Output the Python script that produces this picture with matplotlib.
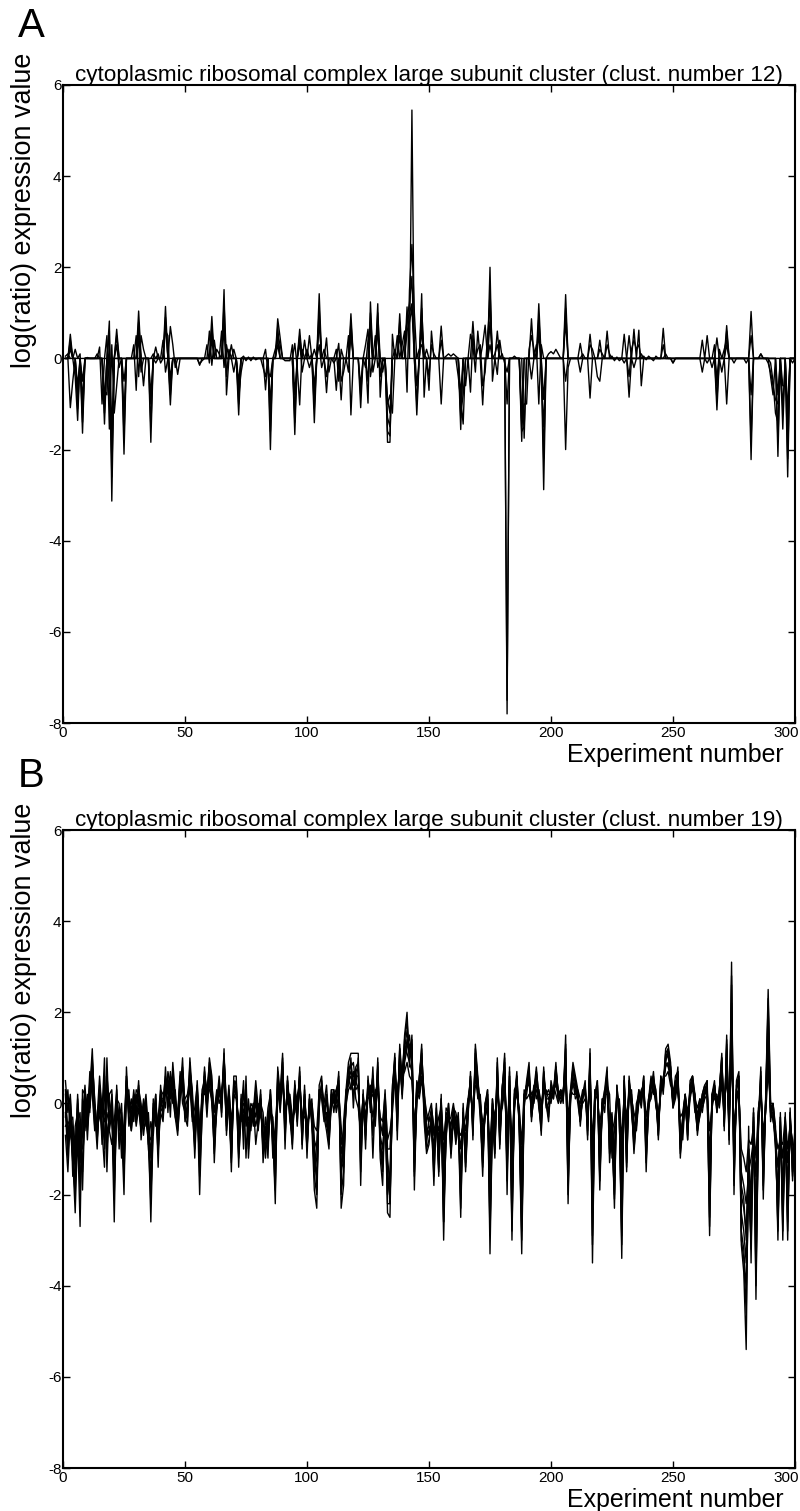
import numpy as np
import matplotlib
matplotlib.use("Agg")
import matplotlib.pyplot as plt
from matplotlib.transforms import ScaledTranslation

plt.rcParams["font.family"] = ["Liberation Sans", "DejaVu Sans"]
plt.rcParams["axes.unicode_minus"] = False

# ============================================================
# DATA
# ============================================================

experiments = np.arange(1, 301)

title_a = "cytoplasmic ribosomal complex large subunit cluster (clust. number 12)"
title_b = "cytoplasmic ribosomal complex large subunit cluster (clust. number 19)"
y_ticks = [6, 4, 2, 0, -2, -4, -6, -8]
x_ticks = [0, 50, 100, 150, 200, 250, 300]

# panel A: genes stay at 0 except at the listed experiments {experiment: value}
a_gene1 = {3: 0.53, 5: -0.4, 6: -1.36, 8: -1.64, 14: 0.1, 17: -1.44, 19: 0.82, 20: -3.13,
           22: 0.64, 25: -2.1, 31: 1.04, 33: -0.6, 36: -1.84, 38: 0.25, 42: 1.14, 44: -1.02,
           47: -0.35, 56: -0.15, 61: 0.92, 66: 1.51, 67: -0.8, 69: 0.3, 72: -1.24, 83: -0.69,
           85: -2.0, 88: 0.87, 89: 0.45, 95: -1.67, 97: 0.64, 99: 0.4, 101: 0.5, 103: -1.41,
           105: 1.42, 108: -0.75, 112: -0.7, 114: -0.91, 118: 0.98, 122: -1.08, 125: -0.98,
           126: 1.24, 129: 1.2, 130: -0.85, 133: -1.84, 134: -1.84, 135: 0.53, 138: 0.98,
           141: 1.13, 143: 5.45, 145: -1.24, 147: 1.42, 148: -0.85, 150: -0.7, 151: 0.6,
           155: 0.71, 163: -1.56, 165: -0.6, 168: 0.81, 172: -1.02, 175: 2.0, 176: -0.5,
           178: 0.6, 182: -7.8, 188: -1.82, 192: 0.87, 195: 1.2, 197: -2.88, 206: 1.4,
           212: 0.33, 216: -0.87, 220: 0.4, 223: 0.6, 230: 0.53, 232: -0.85, 234: 0.64,
           236: 0.62, 237: -0.6, 246: 0.66, 250: -0.1, 262: 0.4, 264: 0.5, 268: -1.13,
           272: 0.72, 282: -2.22, 290: -0.4, 291: -0.8, 293: -2.15, 295: -1.55, 297: -2.6,
           299: -0.1}
a_gene2 = {3: -1.08, 4: -0.5, 6: -0.6, 8: -0.9, 15: 0.25, 16: -1.0, 18: 0.5, 19: -1.55,
           20: 0.3, 21: -1.2, 22: -0.6, 25: -0.5, 30: 0.5, 31: -0.4, 32: 0.5, 33: 0.2,
           36: -0.8, 38: -0.1, 41: 0.4, 42: -0.3, 44: 0.7, 45: 0.3, 46: -0.2, 60: 0.6,
           61: -0.15, 62: 0.4, 65: 0.6, 66: -0.2, 67: 0.3, 70: -0.3, 72: -0.8, 73: -0.3,
           83: 0.2, 84: -0.3, 85: -0.4, 87: 0.2, 88: 0.4, 95: 0.33, 96: -0.2, 97: -1.02,
           98: 0.2, 101: -0.2, 103: 0.2, 105: 0.3, 106: -0.2, 108: 0.45, 109: -0.3, 112: 0.2,
           113: -0.5, 114: 0.2, 117: 0.5, 118: -1.24, 124: 0.3, 125: 0.64, 126: -0.4,
           128: 0.5, 129: -0.2, 131: -0.3, 133: -1.0, 134: -0.8, 135: -1.2, 137: 0.5,
           139: 0.3, 140: 0.6, 141: -0.74, 142: 1.5, 143: 2.5, 144: 1.0, 146: 0.2, 147: 0.3,
           149: 0.2, 155: -1.0, 162: -0.4, 163: -0.9, 164: -1.44, 167: 0.53, 168: 0.3,
           169: -0.3, 170: 0.6, 172: 0.3, 173: 0.73, 175: 0.3, 178: -0.35, 179: 0.4,
           189: -1.75, 192: -0.45, 194: 0.3, 195: -1.0, 196: 0.3, 206: -2.0, 207: -0.2,
           212: -0.3, 216: 0.53, 219: -0.4, 220: -0.5, 232: 0.5, 234: -0.2, 237: 0.1,
           262: -0.3, 266: -0.2, 268: 0.45, 270: -0.3, 272: -1.0, 282: 1.03, 290: -0.1,
           291: -0.5, 292: -1.2, 293: -1.4, 295: -0.6, 296: -0.6, 297: -1.0}
a_gene3 = {3: 0.3, 5: 0.2, 7: 0.1, 8: -1.2, 17: -0.7, 18: -0.8, 19: 0.4, 20: -1.6, 22: 0.3,
           23: -0.2, 29: 0.3, 30: -0.7, 31: 0.6, 32: -0.3, 37: 0.1, 39: 0.1, 40: -0.1,
           42: 0.6, 43: 0.5, 44: -0.6, 59: 0.3, 60: -0.1, 61: 0.6, 63: 0.2, 64: 0.1, 66: 0.9,
           67: -0.4, 68: 0.2, 70: 0.2, 72: -0.5, 82: -0.2, 83: -0.4, 85: -1.2, 88: 0.5,
           89: 0.3, 91: -0.05, 92: -0.05, 93: -0.05, 94: 0.3, 95: -0.8, 97: 0.4, 98: -0.3,
           100: 0.2, 102: 0.1, 103: -0.8, 105: 0.8, 107: 0.2, 111: -0.1, 113: 0.33,
           114: -0.5, 115: -0.3, 117: -0.3, 118: 0.6, 124: -0.2, 125: 0.4, 126: 0.7,
           127: -0.3, 129: 0.7, 130: -0.4, 132: -0.1, 133: -1.3, 134: -1.5, 136: 0.2,
           138: 0.5, 140: 0.4, 141: 0.8, 142: 1.0, 143: 1.2, 144: 0.3, 145: -0.6, 147: 0.8,
           148: 0.1, 150: -0.4, 151: 0.3, 152: 0.1, 155: 0.4, 163: -1.2, 164: -0.8,
           167: -0.74, 168: 0.5, 170: 0.2, 171: 0.3, 172: -0.6, 173: -0.3, 174: 0.5,
           175: 1.2, 177: 0.1, 178: 0.3, 180: 0.1, 181: -0.1, 182: -0.3, 188: -1.2,
           189: -1.0, 190: -1.0, 191: 0.2, 192: 0.5, 193: 0.2, 195: 0.7, 196: -0.4,
           197: -1.5, 206: 0.8, 213: 0.1, 216: 0.3, 217: 0.2, 220: 0.2, 221: 0.1, 223: 0.3,
           224: 0.1, 230: -0.1, 232: -0.4, 233: 0.2, 234: 0.4, 235: 0.2, 236: 0.3, 247: 0.1,
           264: -0.1, 267: 0.3, 268: -0.6, 269: 0.2, 271: 0.2, 272: 0.4, 282: 0.5, 286: 0.1,
           289: -0.1, 290: -0.3, 291: -0.6, 292: -0.9, 293: -1.0, 295: -1.1, 297: -1.6}
a_gene4 = {3: 0.2, 6: -0.8, 8: -0.5, 17: -1.0, 19: -0.5, 20: -2.2, 25: -1.2, 31: 0.4,
           36: -1.0, 42: 0.8, 44: -0.4, 61: 0.4, 66: 0.6, 72: -0.7, 85: -1.0, 88: 0.3,
           95: -1.2, 97: 0.3, 103: -0.6, 105: 0.9, 108: -0.4, 118: 0.5, 122: -0.6,
           125: -0.5, 126: 0.8, 129: 0.6, 133: -0.9, 134: -1.2, 141: 0.6, 142: 0.8,
           143: 1.1, 147: 0.6, 163: -0.8, 175: 0.8, 182: -1.0, 188: -1.4, 195: 0.5,
           197: -0.9, 206: -0.5, 246: 0.3, 268: -0.4, 272: 0.3, 282: -0.8, 293: -0.8,
           297: -1.2}
a_gene5 = {1: 0.05, 2: 0.1, 10: 0.02, 56: -0.12, 57: -0.05, 74: 0.05, 75: -0.05, 76: 0.03,
           77: -0.05, 78: 0.03, 79: -0.03, 157: 0.05, 158: 0.1, 159: 0.05, 160: 0.1,
           161: 0.05, 185: 0.05, 199: 0.1, 200: 0.15, 201: 0.1, 202: 0.2, 203: 0.1,
           225: 0.05, 226: -0.05, 227: 0.03, 228: -0.05, 238: 0.05, 239: -0.03, 240: 0.05,
           242: -0.05, 243: 0.05, 250: -0.1, 275: -0.1, 280: -0.1, 286: 0.1}
a_gene6 = {3: 0.4, 6: -1.1, 8: -1.4, 17: -1.2, 19: 0.6, 20: -2.6, 22: 0.5, 25: -1.7,
           31: 0.8, 36: -1.5, 42: 0.9, 44: -0.8, 61: 0.7, 66: 1.2, 72: -1.0, 85: -1.6,
           88: 0.7, 95: -1.4, 97: 0.5, 103: -1.1, 105: 1.1, 118: 0.8, 122: -0.8, 126: 1.0,
           129: 1.0, 133: -1.6, 134: -1.7, 138: 0.8, 141: 0.9, 142: 1.2, 143: 1.8,
           145: -1.0, 147: 1.1, 163: -1.3, 175: 1.5, 182: -7.5, 188: -1.6, 189: -1.5,
           195: 0.9, 197: -2.2, 206: 1.1, 268: -0.9, 272: 0.6, 282: -1.8, 293: -1.8,
           297: -2.2}

# panel B: one value per experiment (1..300)
b_gene1 = [
    -0.7, -1.5, -0.3, -1.2, -2.4, -0.6, -2.7, 0.3, 0.2, -0.8, 0.3, 1.2, -0.2, -1.0, 0.2, -0.6, -1.4, 1.0, -0.6, -0.2,
    -2.6, 0.4, -0.8, -0.5, -2.0, 0.8, -0.3, -0.6, 0.2, -0.2, 0.5, -0.8, -0.2, 0.2, -0.6, -2.6, -0.4, 0.2, -1.4, 0.4,
    -0.3, 0.8, -0.2, 0.7, 0.1, -0.3, -0.7, 0.2, 1.0, -0.3, -0.5, 1.0, 0.2, -1.2, 0.1, -2.0, -0.2, 0.8, 0.0, 1.0,
    0.6, -1.3, 0.0, 0.6, -0.2, 1.2, -0.7, 0.2, -1.5, 0.6, 0.6, -1.4, 0.2, -1.0, 0.6, -1.2, -0.3, 0.0, -0.9, -0.4,
    0.3, -1.3, -0.5, -1.2, 0.3, -0.6, -2.2, 0.8, 0.2, 1.1, -1.0, 0.6, -0.2, -1.0, 0.5, -0.3, 0.8, -1.0, 0.4, -1.2,
    0.2, -0.5, -1.9, -2.3, 0.4, 0.6, -0.3, -0.6, -1.0, 0.3, 0.3, 0.0, 0.7, -2.3, -1.8, 0.3, 0.9, 1.1, 1.1, 1.1,
    1.1, -1.8, 0.3, -1.0, 0.6, -0.2, 0.8, -0.5, 1.0, -1.2, -1.8, 0.0, -2.4, -2.5, 0.3, 1.1, -0.8, 1.3, 0.5, 1.5,
    2.0, 0.8, 1.5, -1.9, 0.2, 0.5, 1.3, -0.4, -1.1, -0.9, -0.3, -1.8, -0.2, -1.6, 0.2, -3.0, -0.5, 0.0, -1.2, -0.3,
    -0.9, -0.4, -2.5, -0.1, -1.5, -0.3, 0.7, -0.8, 1.3, 0.6, -0.2, -1.6, 0.0, 0.3, -3.3, -0.3, -1.2, 1.0, -1.0, 0.2,
    1.1, -2.0, 0.8, -3.0, 0.1, 0.7, -0.6, -3.3, 0.0, 0.5, 0.9, -0.4, 0.3, 0.8, 0.1, -0.7, 0.8, 0.0, -0.4, 0.5,
    0.2, 0.9, 0.1, 0.3, 0.0, 1.5, -2.2, 0.3, 0.9, 0.6, 0.3, -0.5, 0.2, 0.5, -0.8, 1.2, -3.5, 0.2, 0.5, -1.9,
    0.0, 0.3, 0.8, -1.3, -0.5, -2.3, 0.4, -0.2, -3.4, 0.6, -1.5, 0.6, 0.0, -1.1, -0.3, 0.3, 0.1, 0.6, -1.5, 0.1,
    0.6, 0.2, 0.2, -0.8, 0.6, 0.4, 1.2, 1.3, 0.9, -0.1, 0.3, 0.8, -1.2, -0.3, 0.2, -0.8, 0.5, 0.6, 0.2, -0.7,
    -0.2, 0.2, 0.4, 0.5, -2.9, 0.2, 0.5, -0.2, 0.3, 1.1, -0.6, 1.5, -0.9, 3.1, -2.0, 0.5, 0.7, -3.1, -3.7, -5.4,
    -0.5, -3.5, -0.1, -4.3, -0.4, 0.8, -2.1, 0.2, 2.5, 0.0, 0.0, -0.5, -3.0, -0.2, -3.0, -0.2, -3.0, -0.1, -1.7, -0.7,
]
b_gene2 = [
    0.5, -0.2, 0.2, -0.8, -1.1, 0.1, -1.3, -0.3, 0.4, -0.4, 0.7, 0.4, -0.5, -0.3, 0.6, -0.2, 1.0, -1.5, 0.2, 0.3,
    -0.8, 0.1, 0.0, -1.2, -0.4, 0.5, -0.2, 0.1, -0.4, 0.3, 0.2, -0.3, 0.0, -0.5, -0.2, -1.2, 0.0, -0.3, -0.6, 0.2,
    0.0, 0.3, 0.6, -0.3, 0.9, 0.2, -0.4, 0.5, 0.3, 0.1, 0.2, 0.6, -0.3, -0.1, 0.4, -0.8, 0.3, 0.5, -0.3, 0.6,
    0.3, -0.6, 0.2, 0.3, 0.1, 0.8, -0.3, 0.4, -0.6, 0.3, 0.2, -0.5, -0.2, 0.5, -1.2, 0.1, -0.5, -0.2, 0.5, -0.1,
    -0.2, -0.6, -1.2, -0.3, 0.1, -1.0, -0.5, 0.3, -0.2, 0.6, -0.3, 0.3, 0.1, -0.5, 0.2, 0.1, 0.5, -0.4, 0.0, -0.6,
    -0.1, 0.1, -0.8, -1.0, 0.2, 0.3, 0.0, 0.4, -0.4, 0.1, 0.2, 0.3, 0.4, -0.9, -0.6, 0.1, 0.5, 0.6, 0.2, 0.5,
    0.3, -0.4, 0.1, -0.3, 0.3, 0.4, -1.2, 0.2, 0.5, -0.5, -0.6, 0.3, -1.0, -1.0, 0.1, 0.6, 0.2, 0.8, 0.3, 0.9,
    1.2, 1.5, 0.9, -0.8, 0.5, 0.3, 0.8, 0.3, -0.4, -0.2, 0.0, -0.7, -0.4, -0.6, 0.1, -1.2, -0.2, -0.3, -0.5, -0.1,
    -0.2, -0.5, -1.0, -0.3, -0.6, 0.0, 0.3, -0.3, 0.6, 0.2, 0.1, -0.6, -0.1, 0.1, -1.4, 0.1, -0.5, 0.4, -0.3, 0.1,
    0.5, -0.8, 0.4, -1.2, 0.3, 0.4, -0.2, -1.3, 0.2, 0.3, 0.5, 0.1, 0.0, 0.4, 0.3, -0.2, 0.4, 0.2, 0.3, 0.1,
    0.3, 0.4, 0.2, 0.1, 0.3, 0.8, -0.6, 0.2, 0.4, 0.3, 0.1, 0.0, 0.3, 0.2, -0.3, 0.6, -1.1, 0.3, 0.2, -0.6,
    -0.2, 0.1, 0.4, 0.2, -1.2, -0.6, 0.2, 0.0, -1.2, 0.3, -0.5, 0.3, 0.2, -0.4, -0.6, 0.1, 0.3, 0.4, -0.5, -0.1,
    0.3, 0.7, -0.1, -0.3, 0.3, 0.5, 0.8, 0.9, 0.5, 0.2, 0.5, 0.4, -0.5, -0.8, 0.1, -0.3, 0.3, 0.4, -0.2, -0.2,
    0.0, 0.1, 0.2, 0.3, -1.1, 0.0, 0.3, 0.1, 0.0, 0.6, -0.2, 0.8, -0.3, 1.3, -0.8, 0.2, 0.3, -1.5, -1.8, -2.2,
    -1.5, -1.2, -0.8, -1.6, -0.2, 0.3, -0.9, 0.0, 1.0, -0.3, -0.3, -0.8, -1.4, -0.6, -1.2, -0.5, -1.3, -0.4, -0.9, -1.0,
]
b_gene3 = [
    0.2, -1.0, 0.1, -1.6, -0.5, -0.2, -2.0, 0.1, -0.6, 0.1, -0.2, 0.9, 0.1, -0.8, 0.3, -0.9, 0.4, -0.7, -0.3, 0.1,
    -1.5, -0.3, -0.4, 0.0, -1.3, 0.2, 0.3, -0.6, 0.0, -0.5, -0.1, -0.6, -0.4, 0.1, -0.9, -0.4, -0.7, 0.1, -1.0, -0.2,
    -0.4, 0.5, 0.2, 0.3, 0.5, -0.2, -0.3, 0.7, 0.0, -0.2, -0.2, 0.8, 0.1, -0.6, -0.2, -1.1, 0.2, 0.2, 0.4, 0.3,
    0.1, -0.8, -0.2, 0.5, -0.3, 1.0, 0.0, -0.2, -1.1, 0.5, 0.4, -0.9, 0.0, -0.4, 0.2, -0.8, -0.1, -0.4, 0.2, -0.6,
    0.1, -1.0, -0.3, -0.8, -0.2, -0.3, -1.4, 0.5, 0.0, 0.9, -0.6, 0.5, -0.4, -0.7, 0.4, -0.5, 0.6, -0.7, 0.2, -0.9,
    0.1, -0.4, -1.2, -1.6, -0.1, 0.5, -0.2, -0.2, -0.8, 0.2, -0.2, 0.3, 0.5, -1.5, -1.0, 0.2, 0.7, 0.9, 0.4, 0.7,
    0.8, -1.0, 0.2, -0.6, 0.5, -0.1, 0.4, -0.2, 0.8, -0.9, -1.2, -0.2, -1.6, -2.0, 0.4, 0.9, -0.4, 1.1, 0.2, 1.2,
    1.6, 1.1, 1.3, -1.3, 0.0, 0.6, 1.1, 0.1, -0.7, -0.6, -0.5, -1.2, 0.0, -1.1, -0.3, -2.2, -0.8, 0.0, -0.9, -0.4,
    -0.6, -0.2, -1.8, -0.2, -1.1, -0.1, 0.5, -0.5, 1.0, 0.4, -0.3, -1.3, 0.0, 0.2, -2.4, -0.2, -0.9, 0.8, -0.6, 0.3,
    0.9, -1.5, 0.6, -2.2, -0.2, 0.6, -0.4, -2.4, -0.1, 0.4, 0.7, -0.2, 0.2, 0.6, -0.1, -0.5, 0.6, 0.1, -0.2, 0.4,
    0.1, 0.7, 0.3, 0.2, 0.1, 1.2, -1.4, 0.0, 0.7, 0.5, 0.2, -0.3, 0.1, 0.4, -0.6, 0.9, -2.4, 0.0, 0.4, -1.3,
    0.1, -0.2, 0.6, -0.8, -0.3, -1.6, 0.3, -0.4, -2.4, 0.5, -1.1, 0.5, -0.2, -0.8, 0.0, 0.2, -0.1, 0.5, -1.0, 0.0,
    0.5, 0.4, 0.1, -0.6, 0.5, 0.3, 1.0, 1.1, 0.7, 0.0, 0.2, 0.6, -0.9, -0.5, 0.0, -0.6, 0.4, 0.5, 0.0, -0.5,
    -0.3, 0.0, 0.3, 0.4, -2.0, 0.2, 0.4, -0.1, 0.2, 0.9, -0.4, 1.2, -0.6, 2.2, -1.4, 0.3, 0.5, -2.4, -2.8, -3.5,
    -1.0, -2.6, -0.3, -3.1, -0.6, 0.5, -1.5, 0.1, 1.8, -0.2, -0.2, -1.0, -2.4, -0.4, -2.3, -0.8, -2.2, -0.6, -1.3, -0.8,
]
b_gene4 = [
    -0.3, 0.3, -0.7, -0.9, -1.8, -0.1, -0.6, -1.5, 0.3, -0.6, 0.5, 0.2, -0.6, -0.4, -0.1, -0.5, -0.8, 0.5, -0.6, -0.9,
    -0.4, 0.3, -1.0, -0.2, -0.9, 0.6, -0.5, -0.1, 0.1, 0.0, 0.3, 0.0, -0.7, -0.2, -0.4, -1.8, 0.1, -0.5, -0.3, 0.3,
    0.2, -0.1, 0.7, 0.4, 0.0, 0.3, -0.6, 0.1, 0.6, -0.4, 0.0, 0.4, -0.4, -0.3, 0.3, -0.5, -0.1, 0.6, 0.1, 0.8,
    0.4, -0.2, 0.3, 0.0, 0.2, 0.6, -0.5, 0.3, -0.4, 0.2, 0.1, -0.3, -0.4, 0.3, -0.5, -0.3, -0.6, 0.0, -0.3, 0.0,
    -0.3, -0.4, -0.8, -0.1, 0.2, -0.9, -0.7, 0.2, 0.3, 0.4, -0.1, 0.0, 0.2, -0.3, -0.2, 0.2, 0.3, -0.2, -0.3, -0.4,
    -0.3, 0.0, -0.5, -0.6, 0.3, 0.1, -0.4, 0.2, -0.3, -0.1, 0.1, -0.1, 0.2, -0.5, -1.2, 0.0, 0.3, 0.4, 0.7, 0.1,
    -0.1, -0.6, -0.2, 0.0, 0.2, 0.3, -0.7, 0.3, 0.2, -0.3, -0.4, 0.2, -0.8, -0.6, -0.2, 0.5, 0.3, 0.6, 0.6, 0.7,
    0.9, 0.6, 0.5, -0.5, 0.3, 0.1, 0.5, 0.2, -0.2, -0.4, -0.1, -0.5, -0.6, -0.3, -0.1, -0.8, -0.3, -0.4, -0.3, 0.0,
    -0.4, -0.6, -0.7, -0.5, -0.3, 0.1, 0.2, -0.2, 0.4, 0.3, 0.0, -0.4, -0.3, -0.1, -0.9, 0.0, -0.3, 0.2, -0.2, -0.1,
    0.3, -0.5, 0.2, -0.8, 0.0, 0.2, -0.1, -0.9, 0.3, 0.1, 0.2, 0.0, 0.4, 0.1, 0.3, 0.0, 0.2, 0.3, 0.1, 0.0,
    0.4, 0.2, 0.0, 0.3, 0.2, 0.5, -0.3, 0.3, 0.2, 0.2, 0.3, 0.1, 0.0, 0.1, -0.2, 0.4, -0.8, 0.2, 0.1, -0.4,
    -0.1, 0.2, 0.2, -0.3, -0.6, -0.4, 0.1, 0.1, -0.8, 0.2, -0.3, 0.2, 0.1, -0.2, -0.4, 0.0, 0.2, 0.2, -0.3, 0.1,
    0.2, 0.3, 0.0, -0.2, 0.2, 0.6, 0.6, 0.7, 0.4, 0.3, 0.4, 0.2, -0.3, -0.2, 0.2, -0.2, 0.2, 0.3, 0.1, -0.1,
    0.1, -0.1, 0.1, 0.2, -0.6, -0.1, 0.2, 0.2, -0.1, 0.4, 0.0, 0.5, -0.2, 0.9, -0.5, 0.1, 0.2, -1.0, -1.2, -1.5,
    -0.8, -0.9, -0.5, -1.2, -0.1, 0.2, -0.6, -0.2, 0.7, 0.0, -0.4, -0.6, -1.0, -0.8, -0.9, -0.3, -1.0, -0.5, -0.8, -1.2,
]
b_gene5 = [
    0.0, -0.6, -0.4, -0.3, -1.3, 0.2, -0.9, -1.0, -0.2, 0.2, -0.1, 0.6, -0.3, -0.7, 0.4, -0.1, -0.4, -0.2, -0.5, 0.2,
    -2.0, -0.1, -0.2, -0.7, -0.6, 0.3, 0.0, -0.4, -0.2, 0.2, 0.0, -0.5, 0.1, -0.3, -0.7, -0.8, -0.3, 0.0, -0.8, -0.1,
    -0.2, 0.4, 0.0, 0.5, 0.6, -0.1, -0.2, 0.3, 0.8, 0.0, -0.3, 0.7, 0.3, -0.8, 0.0, -1.4, 0.1, 0.4, -0.1, 0.5,
    0.0, -1.0, 0.1, 0.4, -0.1, 0.9, -0.2, 0.0, -0.9, 0.4, 0.5, -1.0, 0.1, -0.6, 0.4, -1.0, -0.2, -0.3, 0.3, -0.3,
    0.2, -0.8, -0.6, -0.5, -0.1, -0.4, -1.7, 0.6, -0.1, 0.8, -0.8, 0.4, -0.1, -0.8, 0.3, -0.2, 0.7, -0.8, 0.3, -0.8,
    0.0, -0.3, -1.5, -1.2, 0.1, 0.4, -0.1, -0.5, -0.6, 0.3, 0.0, 0.2, 0.6, -1.8, -0.4, 0.3, 0.4, 1.0, -0.1, 0.8,
    0.9, -1.3, 0.0, -0.8, 0.4, 0.0, 0.6, -0.4, 0.7, -0.7, -1.0, -0.1, -2.0, -1.5, 0.2, 0.8, -0.5, 1.2, 0.4, 1.0,
    1.4, 1.2, 1.1, -1.1, 0.1, 0.4, 0.9, -0.2, -0.9, -0.3, -0.4, -1.4, -0.1, -1.3, 0.0, -1.8, -0.6, -0.1, -1.0, -0.2,
    -0.7, -0.3, -2.1, 0.0, -1.3, -0.2, 0.6, -0.6, 1.1, 0.5, -0.1, -1.0, -0.2, 0.2, -2.9, -0.4, -1.0, 0.6, -0.8, 0.4,
    0.7, -1.2, 0.7, -2.6, 0.2, 0.5, -0.5, -2.8, 0.1, 0.2, 0.6, -0.3, 0.1, 0.7, 0.2, -0.4, 0.7, -0.1, 0.0, 0.3,
    0.2, 0.8, 0.2, 0.0, 0.2, 1.0, -1.8, 0.1, 0.8, 0.4, 0.0, -0.4, 0.2, 0.3, -0.5, 1.0, -2.9, 0.1, 0.4, -1.6,
    0.0, 0.0, 0.7, -1.0, -0.8, -2.0, 0.4, -0.3, -2.9, 0.6, -1.3, 0.4, 0.0, -0.9, -0.2, 0.3, 0.0, 0.6, -1.2, -0.2,
    0.4, 0.6, 0.2, -0.7, 0.6, 0.2, 1.1, 1.0, 0.8, 0.1, 0.6, 0.7, -1.1, -0.6, 0.1, -0.7, 0.3, 0.6, -0.1, -0.6,
    -0.1, 0.2, 0.4, 0.2, -2.5, 0.1, 0.4, -0.2, 0.3, 1.0, -0.5, 1.3, -0.8, 2.6, -1.7, 0.4, 0.6, -2.8, -3.2, -4.1,
    -2.0, -3.0, -0.2, -3.7, -0.5, 0.6, -1.8, 0.1, 2.1, -0.4, 0.0, -0.7, -2.7, -0.3, -2.6, -0.4, -2.6, -0.2, -1.5, -0.5,
]
b_gene6 = [
    -0.2, -1.2, 0.0, -1.0, -0.8, -0.4, -0.2, -1.9, 0.0, -0.3, 0.2, 1.0, 0.0, -0.5, -0.3, 0.1, -1.0, 0.6, 0.0, -0.4,
    -0.9, 0.2, -0.6, -0.3, -1.6, 0.4, -0.1, -0.3, 0.3, -0.3, 0.4, -0.2, -0.5, 0.0, -1.0, -1.5, -0.2, -0.1, -0.5, 0.1,
    0.1, 0.6, 0.3, 0.1, 0.7, 0.0, -0.5, 0.4, 0.4, -0.1, 0.1, 0.3, -0.1, -0.5, 0.5, -0.6, 0.0, 0.7, 0.2, 0.9,
    0.5, -0.4, -0.1, 0.2, 0.3, 0.7, -0.4, 0.1, -0.7, 0.1, 0.3, -0.7, -0.1, 0.0, -0.3, -0.5, 0.0, -0.1, -0.5, -0.2,
    0.0, -0.2, -1.0, -0.6, 0.3, -1.2, -0.9, 0.4, 0.1, 0.5, -0.4, 0.2, -0.3, -0.4, 0.0, 0.0, 0.4, -0.5, 0.1, -0.5,
    -0.2, -0.1, -0.9, -1.9, 0.2, 0.2, -0.3, 0.1, -0.7, 0.0, 0.3, -0.2, 0.1, -1.1, -0.8, -0.1, 0.6, 0.3, 0.5, 0.3,
    0.4, -0.8, 0.2, -0.4, 0.1, 0.2, -0.3, 0.1, 0.4, -0.4, -0.7, 0.1, -1.2, -1.8, 0.0, 0.7, 0.0, 0.9, 0.7, 1.3,
    1.1, 0.9, 0.7, -0.7, 0.4, 0.2, 0.6, 0.0, -0.5, -0.7, -0.2, -1.0, -0.3, -0.8, -0.2, -1.5, -0.1, -0.2, -0.7, -0.5,
    -0.3, -0.7, -1.4, -0.4, -0.8, 0.0, 0.4, -0.4, 0.8, 0.1, 0.2, -0.8, -0.3, 0.0, -1.8, 0.1, -0.6, 0.5, -0.5, 0.0,
    0.4, -1.0, 0.3, -1.6, -0.1, 0.3, -0.3, -1.7, 0.0, 0.4, 0.4, 0.2, 0.3, 0.3, 0.0, -0.3, 0.3, 0.2, 0.2, 0.2,
    0.3, 0.5, 0.1, 0.2, 0.3, 0.6, -1.0, 0.2, 0.5, 0.1, 0.2, -0.2, 0.1, 0.3, -0.4, 0.7, -1.7, 0.3, 0.3, -1.0,
    -0.3, 0.3, 0.3, -0.5, -0.2, -1.1, 0.0, 0.0, -1.8, 0.4, -0.7, 0.1, 0.3, -0.6, -0.5, 0.2, 0.2, 0.3, -0.7, 0.0,
    0.1, 0.5, 0.3, -0.4, 0.4, 0.4, 0.9, 1.2, 0.6, -0.1, 0.1, 0.5, -0.7, -0.4, 0.2, -0.5, 0.1, 0.4, 0.2, -0.4,
    0.0, -0.2, 0.2, 0.5, -1.6, 0.2, 0.1, 0.0, 0.1, 0.7, -0.3, 1.0, -0.5, 1.8, -1.1, 0.0, 0.4, -2.0, -2.3, -2.8,
    -1.2, -2.0, -0.6, -2.5, -0.3, 0.4, -1.2, -0.1, 1.4, -0.1, -0.1, -0.9, -1.9, -0.5, -1.8, -0.6, -1.8, -0.3, -1.1, -1.4,
]
b_gene7 = [
    0.3, -0.8, -0.2, -0.6, -1.5, -0.3, -1.1, -0.7, 0.1, -0.5, 0.0, 0.8, -0.4, -0.6, 0.3, -0.3, 0.6, -1.0, -0.2, -0.1,
    -1.2, 0.0, -0.3, -0.9, -1.1, 0.5, 0.1, -0.2, -0.1, 0.1, 0.2, -0.4, -0.3, -0.1, -0.5, -2.0, -0.5, 0.2, -0.9, 0.0,
    -0.1, 0.2, 0.4, 0.6, 0.3, 0.1, -0.3, 0.6, 0.5, -0.2, -0.1, 0.5, 0.0, -0.9, 0.2, -1.0, 0.2, 0.3, 0.0, 0.7,
    0.2, -0.8, 0.0, 0.3, 0.0, 1.0, -0.1, 0.2, -1.2, 0.3, 0.4, -1.1, 0.0, -0.2, 0.1, -0.6, -0.4, -0.2, 0.0, -0.4,
    0.1, -1.1, -0.7, -0.9, 0.0, -0.7, -1.2, 0.7, 0.0, 0.7, -0.5, 0.4, 0.0, -0.6, 0.1, -0.1, 0.6, -0.6, 0.2, -1.0,
    0.1, -0.2, -1.4, -0.9, 0.0, 0.4, -0.2, 0.2, -0.5, 0.2, 0.1, 0.1, 0.3, -1.3, -1.4, 0.1, 0.5, 0.7, 0.6, 0.6,
    0.6, -1.1, 0.1, -0.5, 0.3, 0.1, 0.2, 0.0, 0.6, -0.8, -1.4, 0.0, -1.4, -2.2, 0.1, 1.0, -0.2, 1.0, 0.1, 1.1,
    1.3, 1.3, 1.0, -1.5, 0.2, 0.4, 1.0, 0.0, -0.6, -0.5, -0.6, -1.1, -0.2, -1.4, -0.1, -2.6, -0.4, -0.2, -0.8, -0.1,
    -0.5, -0.5, -1.6, -0.3, -1.0, 0.1, 0.5, -0.4, 0.9, 0.3, 0.0, -1.1, -0.1, 0.1, -2.0, -0.1, -0.8, 0.7, -0.7, 0.1,
    0.8, -1.4, 0.5, -2.0, 0.0, 0.4, -0.4, -2.0, 0.2, 0.3, 0.6, -0.1, 0.2, 0.5, 0.1, -0.2, 0.5, 0.1, 0.1, 0.2,
    0.1, 0.6, 0.2, 0.1, 0.1, 0.9, -1.2, 0.2, 0.6, 0.3, 0.1, -0.1, 0.2, 0.2, -0.3, 0.8, -2.0, 0.2, 0.3, -1.1,
    0.1, 0.1, 0.5, -0.6, -1.0, -1.3, 0.2, -0.1, -2.1, 0.4, -0.9, 0.2, 0.1, -0.7, -0.3, 0.1, 0.2, 0.4, -0.9, 0.1,
    0.4, 0.5, 0.1, -0.5, 0.3, 0.5, 0.9, 0.8, 0.6, 0.0, 0.4, 0.6, -0.8, -0.3, 0.1, -0.4, 0.2, 0.5, 0.0, -0.3,
    0.1, 0.0, 0.2, 0.3, -1.9, 0.0, 0.2, 0.0, 0.2, 0.8, -0.2, 0.9, -0.4, 1.6, -1.3, 0.2, 0.3, -1.8, -2.1, -3.0,
    -1.6, -2.3, -0.4, -2.8, -0.2, 0.3, -1.1, 0.0, 1.2, -0.2, -0.2, -0.7, -2.1, -0.6, -2.0, -0.5, -1.9, -0.4, -1.2, -1.1,
]
b_gene8 = [
    -0.5, -0.4, -0.5, -1.3, -2.0, 0.0, -1.6, -1.2, -0.4, -0.1, 0.4, 0.5, -0.1, -0.8, 0.0, -0.7, -0.2, 0.3, -0.4, 0.0,
    -1.8, 0.1, -0.5, -0.4, -1.4, 0.6, -0.3, -0.5, 0.2, -0.4, 0.1, -0.6, -0.1, -0.4, -0.8, -2.2, -0.1, -0.2, -1.1, 0.2,
    -0.3, 0.5, 0.5, 0.2, 0.4, -0.3, -0.5, 0.5, 0.7, -0.1, -0.4, 0.9, -0.2, -1.0, 0.3, -1.6, -0.3, 0.6, 0.3, 0.7,
    0.3, -1.1, 0.2, 0.2, 0.1, 1.1, -0.6, 0.1, -1.3, 0.5, 0.2, -1.2, -0.3, -0.3, 0.3, -0.9, -0.1, -0.5, 0.1, -0.5,
    -0.1, -0.9, -0.9, -1.0, 0.1, -0.8, -1.9, 0.6, 0.1, 1.0, -0.7, 0.5, -0.2, -0.9, 0.4, -0.4, 0.5, -0.9, 0.1, -1.0,
    -0.1, -0.2, -1.6, -2.0, 0.3, 0.3, -0.1, -0.3, -0.9, 0.0, 0.2, 0.1, 0.4, -2.0, -1.5, 0.0, 0.8, 0.8, 0.9, 0.4,
    1.0, -1.5, 0.1, -0.7, 0.5, 0.2, 0.6, -0.3, 0.9, -1.0, -1.5, 0.1, -2.2, -2.2, 0.2, 1.0, -0.6, 1.2, 0.3, 1.4,
    1.8, 1.0, 1.4, -1.6, 0.3, 0.5, 1.2, -0.1, -1.0, -0.8, -0.4, -1.6, -0.3, -1.5, 0.1, -2.6, -0.7, -0.2, -1.1, -0.2,
    -0.8, -0.3, -2.3, -0.2, -1.4, -0.2, 0.6, -0.7, 1.2, 0.5, -0.1, -1.4, -0.1, 0.3, -2.7, -0.2, -1.1, 0.9, -0.9, 0.3,
    1.0, -1.7, 0.6, -2.8, 0.1, 0.6, -0.5, -3.0, 0.1, 0.4, 0.8, -0.3, 0.2, 0.7, 0.0, -0.6, 0.7, 0.0, -0.3, 0.4,
    0.2, 0.8, 0.1, 0.2, 0.1, 1.3, -2.0, 0.2, 0.8, 0.5, 0.2, -0.4, 0.2, 0.4, -0.7, 1.1, -3.1, 0.1, 0.5, -1.7,
    0.0, 0.2, 0.7, -1.1, -0.6, -2.1, 0.3, -0.2, -3.1, 0.5, -1.4, 0.5, 0.1, -1.0, -0.4, 0.2, 0.1, 0.5, -1.3, 0.0,
    0.5, 0.3, 0.2, -0.7, 0.5, 0.3, 1.1, 1.2, 0.8, 0.0, 0.4, 0.7, -1.0, -0.4, 0.2, -0.8, 0.4, 0.6, 0.1, -0.6,
    -0.2, 0.1, 0.3, 0.4, -2.7, 0.1, 0.4, -0.1, 0.3, 1.0, -0.5, 1.4, -0.7, 2.8, -1.8, 0.3, 0.6, -3.0, -3.4, -4.6,
    -1.0, -3.2, -0.2, -4.0, -0.4, 0.7, -1.9, 0.1, 2.3, -0.1, 0.0, -0.6, -2.8, -0.3, -2.8, -0.3, -2.8, -0.2, -1.6, -0.6,
]

a_genes = [a_gene1, a_gene2, a_gene3, a_gene4, a_gene5, a_gene6]
b_genes = [b_gene1, b_gene2, b_gene3, b_gene4, b_gene5, b_gene6, b_gene7, b_gene8]


def sparse_profile(spikes):
    values = np.zeros(len(experiments))
    for exp_nr, val in spikes.items():
        values[exp_nr - 1] = val
    return values


# ============================================================
# FIGURE
# ============================================================

fig = plt.figure(figsize=(8.0, 15.11), dpi=100)
H = 1511.0

ax_a = fig.add_axes([63 / 800, 1 - 723 / H, 732 / 800, 638 / H])
ax_b = fig.add_axes([63 / 800, 1 - 1468 / H, 732 / 800, 638 / H])


def style_axes(ax, title):
    ax.set_xlim(0, 300)
    ax.set_ylim(-8, 6)
    ax.set_xticks(x_ticks)
    ax.set_yticks(y_ticks)
    ax.tick_params(direction="in", length=5, width=1, top=True, right=True,
                   labelsize=11)
    ax.tick_params(axis="x", pad=2.5)
    ax.tick_params(axis="y", pad=1)
    for sp in ax.spines.values():
        sp.set_linewidth(1.5)
    ax.set_title(title, fontsize=16.2, pad=3)
    ax.text(0.985, -0.032, "Experiment number", transform=ax.transAxes,
            ha="right", va="top", fontsize=17.9)
    # keep the "300" label inside the figure like the original
    last = ax.get_xticklabels()[-1]
    last.set_transform(last.get_transform() + ScaledTranslation(-9 / 100, 0, fig.dpi_scale_trans))


for gene in a_genes:
    ax_a.plot(experiments, sparse_profile(gene), color="black", lw=1.0)
style_axes(ax_a, title_a)

for gene in b_genes:
    ax_b.plot(experiments, gene, color="black", lw=1.0)
style_axes(ax_b, title_b)

fig.text(18 / 800, 1 - 37 / H, "A", fontsize=29, ha="left", va="baseline")
fig.text(18 / 800, 1 - 787 / H, "B", fontsize=29, ha="left", va="baseline")
fig.text(24 / 800, 1 - 210 / H, "log(ratio) expression value", rotation=90,
         fontsize=19.4, ha="center", va="center")
fig.text(24 / 800, 1 - 960 / H, "log(ratio) expression value", rotation=90,
         fontsize=19.4, ha="center", va="center")

fig.savefig("out.png", dpi=100)
